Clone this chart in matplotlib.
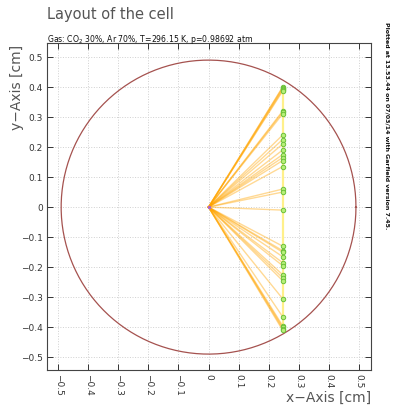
#!/usr/bin/env python3
import numpy as np
import matplotlib
matplotlib.use('Agg')
import matplotlib.pyplot as plt

# cell boundary (tube radius) and wire / end position of drift lines
cell_radius = 0.49
x_end = 0.246
# end points (y) of the drift lines
y_end = [0.400, 0.398, 0.394, 0.390, 0.386, 0.320, 0.316, 0.310,
         0.240, 0.225, 0.210, 0.190, 0.175, 0.165, 0.155, 0.135,
         0.060, 0.050, -0.010,
         -0.130, -0.145, -0.150, -0.165, -0.185, -0.195, -0.225,
         -0.235, -0.245, -0.305, -0.365, -0.395, -0.400, -0.405, -0.410]
ticks = [-0.5, -0.4, -0.3, -0.2, -0.1, 0, 0.1, 0.2, 0.3, 0.4, 0.5]
tick_labels = ['\u22120.5', '\u22120.4', '\u22120.3', '\u22120.2', '\u22120.1', '0',
               '0.1', '0.2', '0.3', '0.4', '0.5']

fig = plt.figure(figsize=(4.03, 4.07), dpi=100)
ax = fig.add_axes([47 / 403, 1 - 370 / 407, 324 / 403, 327 / 407])

# tube
theta = np.linspace(0, 2 * np.pi, 400)
ax.plot(cell_radius * np.cos(theta), cell_radius * np.sin(theta),
        color='#a5524f', lw=0.9, zorder=3)

# drift lines
for y in y_end:
    ax.plot([0, x_end], [0, y], color='#ffa500', lw=1.0, alpha=0.42, zorder=4)

# wire line and end points
ax.plot([x_end, x_end], [min(y_end), max(y_end)], color='#fff08a', lw=1.6, zorder=5)
ax.plot([x_end] * len(y_end), y_end, 'o', ms=3.2, mfc='#b8f07a', mec='#6cc03a',
        mew=0.7, zorder=6)
ax.plot([0], [0], 'o', ms=1.5, color='#aa66cc', zorder=7)

ax.set_xlim(-0.537, 0.54)
ax.set_ylim(-0.543, 0.547)
ax.set_xticks(ticks)
ax.set_yticks(ticks)
ax.set_xticklabels(tick_labels, rotation=-90, fontsize=6.5, va='top')
ax.set_yticklabels(tick_labels, fontsize=6.5)
ax.tick_params(direction='in', length=4, width=0.7, top=True, right=True,
               colors='#333333', labelcolor='#333333', pad=3)
ax.grid(True, linestyle=':', color='#d0d0d0', lw=0.7)
for s in ax.spines.values():
    s.set_color('#444444')
    s.set_linewidth(0.8)

# axis titles placed like the original layout
fig.text(371 / 403, 1 - 398 / 407, 'x\u2212Axis [cm]', fontsize=10, color='#555555',
         ha='right', va='center')
fig.text(17 / 403, 1 - 45 / 407, 'y\u2212Axis [cm]', fontsize=10, color='#555555',
         rotation=90, ha='center', va='top')

fig.text(47 / 403, 1 - 15 / 407, 'Layout of the cell', fontsize=10.5, color='#555555',
         va='center', ha='left')
fig.text(47 / 403, 1 - 40 / 407, 'Gas: CO$_2$ 30%, Ar 70%, T=296.15 K, p=0.98692 atm',
         fontsize=5.6, color='#111111', va='center', ha='left')
fig.text(387 / 403, 1 - 22 / 407,
         'Plotted at 13.53.44 on 07/03/14 with Garfield version 7.45.',
         fontsize=4.5, rotation=-90, va='top', ha='center', color='#111111',
         fontweight='bold')

plt.savefig('out.png', dpi=100)
